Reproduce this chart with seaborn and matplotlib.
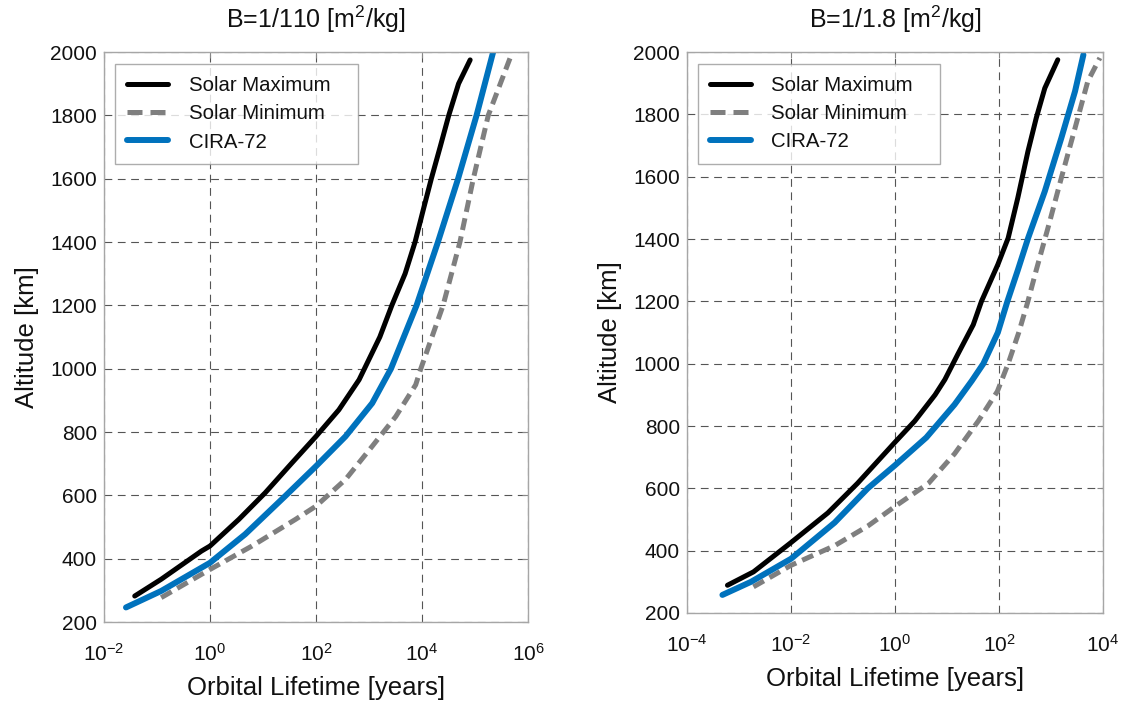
import numpy as np
import pandas as pd
import matplotlib
matplotlib.use("Agg")
import matplotlib.pyplot as plt
import seaborn as sns

# Orbital lifetime [years] versus altitude [km]
# Panel 1: B = 1/110 m^2/kg
alt_max_1 = [282, 335, 424, 440, 524, 608, 702, 786, 870, 965, 1100, 1200, 1300,
             1400, 1500, 1600, 1700, 1800, 1900, 1975]
life_max_1 = [0.038, 0.12, 0.69, 1.0, 3.5, 11, 35, 100, 270, 650, 1600, 2700, 4800,
              7400, 10500, 15000, 22000, 32000, 49000, 81000]

alt_cira_1 = [246, 298, 387, 477, 597, 692, 786, 891, 1000, 1200, 1400, 1600, 1800, 2000]
life_cira_1 = [0.026, 0.12, 1.0, 4.6, 26, 100, 360, 1150, 2600, 7900, 20000, 48000,
               107000, 220000]

alt_min_1 = [277, 366, 440, 524, 566, 650, 755, 849, 949, 1000, 1200, 1400, 1600, 1800, 1980]
life_min_1 = [0.12, 1.0, 6.2, 41, 100, 360, 1150, 3200, 7600, 9500, 25000, 52000,
              93000, 178000, 457000]

# Panel 2: B = 1/1.8 m^2/kg
alt_max_2 = [289, 332, 426, 521, 616, 748, 816, 900, 949, 1029, 1125, 1200, 1318,
             1403, 1532, 1681, 1788, 1884, 1975]
life_max_2 = [6.0e-4, 1.9e-3, 0.01, 0.051, 0.19, 1.0, 2.4, 5.9, 9.1, 16, 32, 46, 95,
              150, 230, 360, 520, 760, 1350]

alt_cira_2 = [258, 300, 374, 490, 600, 674, 763, 869, 945, 1000, 1100, 1200, 1300,
              1403, 1553, 1724, 1874, 1991]
life_cira_2 = [4.8e-4, 1.7e-3, 0.01, 0.069, 0.30, 1.0, 4.0, 14, 30, 50, 95, 145, 230,
               363, 760, 1580, 2900, 4200]

alt_min_2 = [284, 353, 416, 479, 542, 616, 711, 816, 911, 1000, 1100, 1200, 1300,
             1446, 1596, 1756, 1906, 1981]
life_min_2 = [1.9e-3, 0.01, 0.069, 0.30, 1.0, 4.4, 14, 40, 93, 150, 240, 360, 520,
              910, 1580, 2900, 5100, 8700]

titles = ["B=1/110 [m$^2$/kg]", "B=1/1.8 [m$^2$/kg]"]
series_labels = ["Solar Maximum", "Solar Minimum", "CIRA-72"]
xlims = [(1e-2, 1e6), (1e-4, 1e4)]
xticks = [[1e-2, 1e0, 1e2, 1e4, 1e6], [1e-4, 1e-2, 1e0, 1e2, 1e4]]
yticks = list(range(200, 2001, 200))

sns.set_theme(style="white")
plt.rcParams["font.family"] = ["Liberation Sans", "DejaVu Sans"]
plt.rcParams["mathtext.fontset"] = "custom"
plt.rcParams["mathtext.rm"] = "Liberation Sans"
plt.rcParams["mathtext.it"] = "Liberation Sans:italic"
plt.rcParams["mathtext.bf"] = "Liberation Sans:bold"

fig = plt.figure(figsize=(11.3, 7.01), dpi=100)
W, H = 1130, 701
ax1 = fig.add_axes([104 / W, 1 - 622 / H, 424 / W, 570 / H])
ax2 = fig.add_axes([687 / W, 1 - 613 / H, 416 / W, 561 / H])

panels = [
    (ax1, (life_max_1, alt_max_1), (life_min_1, alt_min_1), (life_cira_1, alt_cira_1)),
    (ax2, (life_max_2, alt_max_2), (life_min_2, alt_min_2), (life_cira_2, alt_cira_2)),
]
legend_boxes = [(0.026, 0.0, 0.573, 0.979), (0.026, 0.0, 0.582, 0.979)]

blue = "#0072BD"
grey = "#7f7f7f"
text_col = "#111111"

for i, (ax, smax, smin, cira) in enumerate(panels):
    sns.lineplot(x=smax[0], y=smax[1], ax=ax, color="black", lw=3.6,
                 sort=False, label=series_labels[0])
    sns.lineplot(x=smin[0], y=smin[1], ax=ax, color=grey, lw=3.6,
                 sort=False, label=series_labels[1])
    ax.lines[-1].set_dashes((2.4, 1.3))
    ax.lines[-1].set_dash_capstyle("butt")
    sns.lineplot(x=cira[0], y=cira[1], ax=ax, color=blue, lw=4.3,
                 sort=False, label=series_labels[2])
    for ln in ax.lines:
        ln.set_solid_joinstyle("round")

    ax.set_xscale("log")
    ax.set_xlim(*xlims[i])
    ax.set_ylim(200, 2000)
    ax.set_xticks(xticks[i])
    ax.set_yticks(yticks)
    ax.minorticks_off()
    ax.grid(True, color="#555555", lw=0.8, ls=(0, (7, 5)))
    for s in ax.spines.values():
        s.set_color("#a6a6a6")
        s.set_linewidth(1.0)
    ax.tick_params(direction="in", length=4, width=0.8, color="#888888",
                   top=True, right=True, labelsize=15, labelcolor=text_col)
    ax.tick_params(axis="x", pad=15)
    ax.tick_params(axis="y", pad=5)
    ax.set_title(titles[i], fontsize=18, pad=17, color=text_col)
    ax.set_xlabel("Orbital Lifetime [years]", fontsize=18.5, labelpad=8, color=text_col)
    ax.set_ylabel("Altitude [km]", fontsize=18.5, labelpad=8, color=text_col)
    leg = ax.legend(loc="upper left", bbox_to_anchor=legend_boxes[i], mode="expand",
                    fontsize=14.7, fancybox=False, frameon=True,
                    edgecolor="#999999", handlelength=2.0, handletextpad=1.0,
                    borderaxespad=0.0, borderpad=0.6, labelspacing=0.45)
    leg.get_frame().set_linewidth(1.0)
    leg.legend_handles[1].set_dashes((3.0, 1.6))
    for t in leg.get_texts():
        t.set_color(text_col)

fig.savefig("out.png", dpi=100)
